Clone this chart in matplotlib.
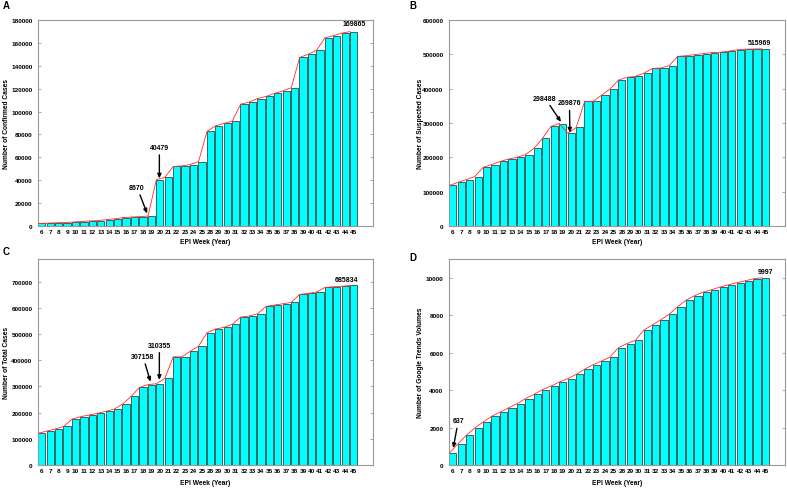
import matplotlib
matplotlib.use("Agg")
import matplotlib.pyplot as plt
import numpy as np

plt.rcParams['font.family'] = ['Liberation Sans', 'DejaVu Sans']
plt.rcParams['font.weight'] = 'bold'

weeks = [6, 7, 8, 9, 10, 11, 12, 13, 14, 15, 16, 17, 18, 19, 20, 21, 22, 23, 24, 25,
         28, 29, 30, 31, 32, 33, 34, 35, 36, 37, 38, 39, 40, 41, 42, 43, 44, 45]

confirmed = [2200, 2500, 2800, 3000, 3400, 3900, 4400, 4700, 5500, 6200,
             7300, 7800, 8200, 8670, 40479, 42400, 52000, 52500, 53700, 56300,
             82600, 87500, 89600, 91600, 106500, 108200, 111400, 113200, 115800, 118100,
             120800, 147300, 150000, 153500, 164500, 166300, 168500, 169865]

suspected = [118000, 127000, 135000, 144000, 171000, 179000, 188000, 195000, 200000, 208000,
             226000, 255000, 290000, 298488, 269876, 287000, 363000, 363000, 381000, 399000,
             425000, 433000, 436000, 445000, 459000, 460000, 467000, 494000, 496000, 499000,
             502000, 505000, 506000, 509000, 513000, 515000, 515500, 515969]

total = [121000, 129800, 137500, 147700, 175600, 184500, 190900, 197300, 205000, 213800,
         232900, 262200, 296500, 307158, 310355, 331000, 413600, 413000, 434000, 454000,
         505200, 519300, 525700, 537200, 565100, 568900, 577800, 605900, 610900, 616000,
         621100, 651700, 655600, 660600, 678400, 681000, 683000, 685834]

google = [637, 1125, 1590, 1980, 2300, 2600, 2820, 3050, 3270, 3550,
          3770, 4020, 4210, 4430, 4610, 4840, 5120, 5360, 5550, 5770,
          6270, 6480, 6660, 7200, 7480, 7750, 8050, 8450, 8800, 9040,
          9230, 9360, 9500, 9620, 9730, 9840, 9946, 9997]

W, H = 787, 489
fig = plt.figure(figsize=(W / 100, H / 100), dpi=100)


def make_axes(left, top, right, bottom):
    return fig.add_axes([left / W, 1 - bottom / H, (right - left) / W, (bottom - top) / H])


def panel(ax, vals, ymax, ystep, ylabel, ylab_x, xlab_y):
    x = np.arange(len(weeks))
    ax.bar(x, vals, width=0.86, color='#00FFFF', edgecolor='#3b6262', linewidth=0.7, zorder=2)
    ax.plot(x - 0.4, vals, color='#ff2a2a', lw=0.6, zorder=3)
    ax.set_xlim(-0.45, 39.3)
    ax.set_ylim(0, ymax)
    ax.set_xticks(x)
    ax.set_xticklabels([str(w) for w in weeks], fontsize=4.6, fontweight='bold')
    ticks = np.arange(0, ymax + 1, ystep)
    ax.set_yticks(ticks)
    ax.set_yticklabels([str(int(v)) for v in ticks], fontsize=4.6, fontweight='bold')
    ax.tick_params(axis='x', length=0, pad=2)
    ax.tick_params(axis='y', length=2, width=0.5, color='#888888', right=True, direction='in', pad=4)
    ax.set_xticks(x, minor=True)
    ax.tick_params(axis='x', which='minor', top=True, bottom=False, length=1.5, width=0.4,
                   color='#888888', direction='in')
    for s in ax.spines.values():
        s.set_color('#999999')
        s.set_linewidth(0.8)
    ax.set_xlabel('EPI Week (Year)', fontsize=4.8, fontweight='bold', va='center')
    ax.xaxis.set_label_coords(0.5, xlab_y)
    ax.set_ylabel(ylabel, fontsize=4.8, fontweight='bold', va='center')
    ax.yaxis.set_label_coords(ylab_x, 0.5)


arrow = dict(arrowstyle='-|>,head_length=0.5,head_width=0.22', color='black', lw=1.0,
             shrinkA=1, shrinkB=0)

axA = make_axes(38, 21, 373, 227)
panel(axA, confirmed, 180000, 20000, 'Number of Confirmed Cases', -0.095, -0.075)
axA.annotate('8670', xy=(12.5, 11000), xytext=(11.3, 33800), fontsize=5, ha='center',
             va='center', arrowprops=arrow)
axA.annotate('40479', xy=(13.95, 41500), xytext=(13.95, 68800), fontsize=5, ha='center',
             va='center', arrowprops=arrow)
axA.text(37.1, 173500, '169865', fontsize=5, ha='center', va='bottom')

axB = make_axes(449, 21, 785, 227)
panel(axB, suspected, 600000, 100000, 'Number of Suspected Cases', -0.086, -0.075)
axB.annotate('298488', xy=(12.8, 303000), xytext=(10.9, 372800), fontsize=5, ha='center',
             va='center', arrowprops=arrow)
axB.annotate('269876', xy=(13.85, 272000), xytext=(13.8, 359000), fontsize=5, ha='center',
             va='center', arrowprops=arrow)
axB.text(36.3, 524000, '515969', fontsize=5, ha='center', va='bottom')

axC = make_axes(38, 260, 373, 466)
panel(axC, total, 787000, 100000, 'Number of Total Cases', -0.095, -0.085)
axC.annotate('307158', xy=(12.9, 318000), xytext=(12.0, 415300), fontsize=5, ha='center',
             va='center', arrowprops=arrow)
axC.annotate('310355', xy=(13.95, 325000), xytext=(13.95, 458400), fontsize=5, ha='center',
             va='center', arrowprops=arrow)
axC.text(36.2, 697000, '685834', fontsize=5, ha='center', va='bottom')

axD = make_axes(449, 260, 785, 466)
panel(axD, google, 11000, 2000, 'Number of Google Trends Volumes', -0.086, -0.085)
axD.annotate('637', xy=(0.05, 900), xytext=(0.65, 2365), fontsize=5, ha='center',
             va='center', arrowprops=arrow)
axD.text(36.95, 10130, '9997', fontsize=5, ha='center', va='bottom')

for lab, px, py in [('A', 6, 6), ('B', 413, 6), ('C', 6, 252), ('D', 413, 258)]:
    fig.text(px / W, 1 - py / H, lab, fontsize=7, fontweight='bold', ha='center', va='center')

fig.savefig('out.png', dpi=100)
